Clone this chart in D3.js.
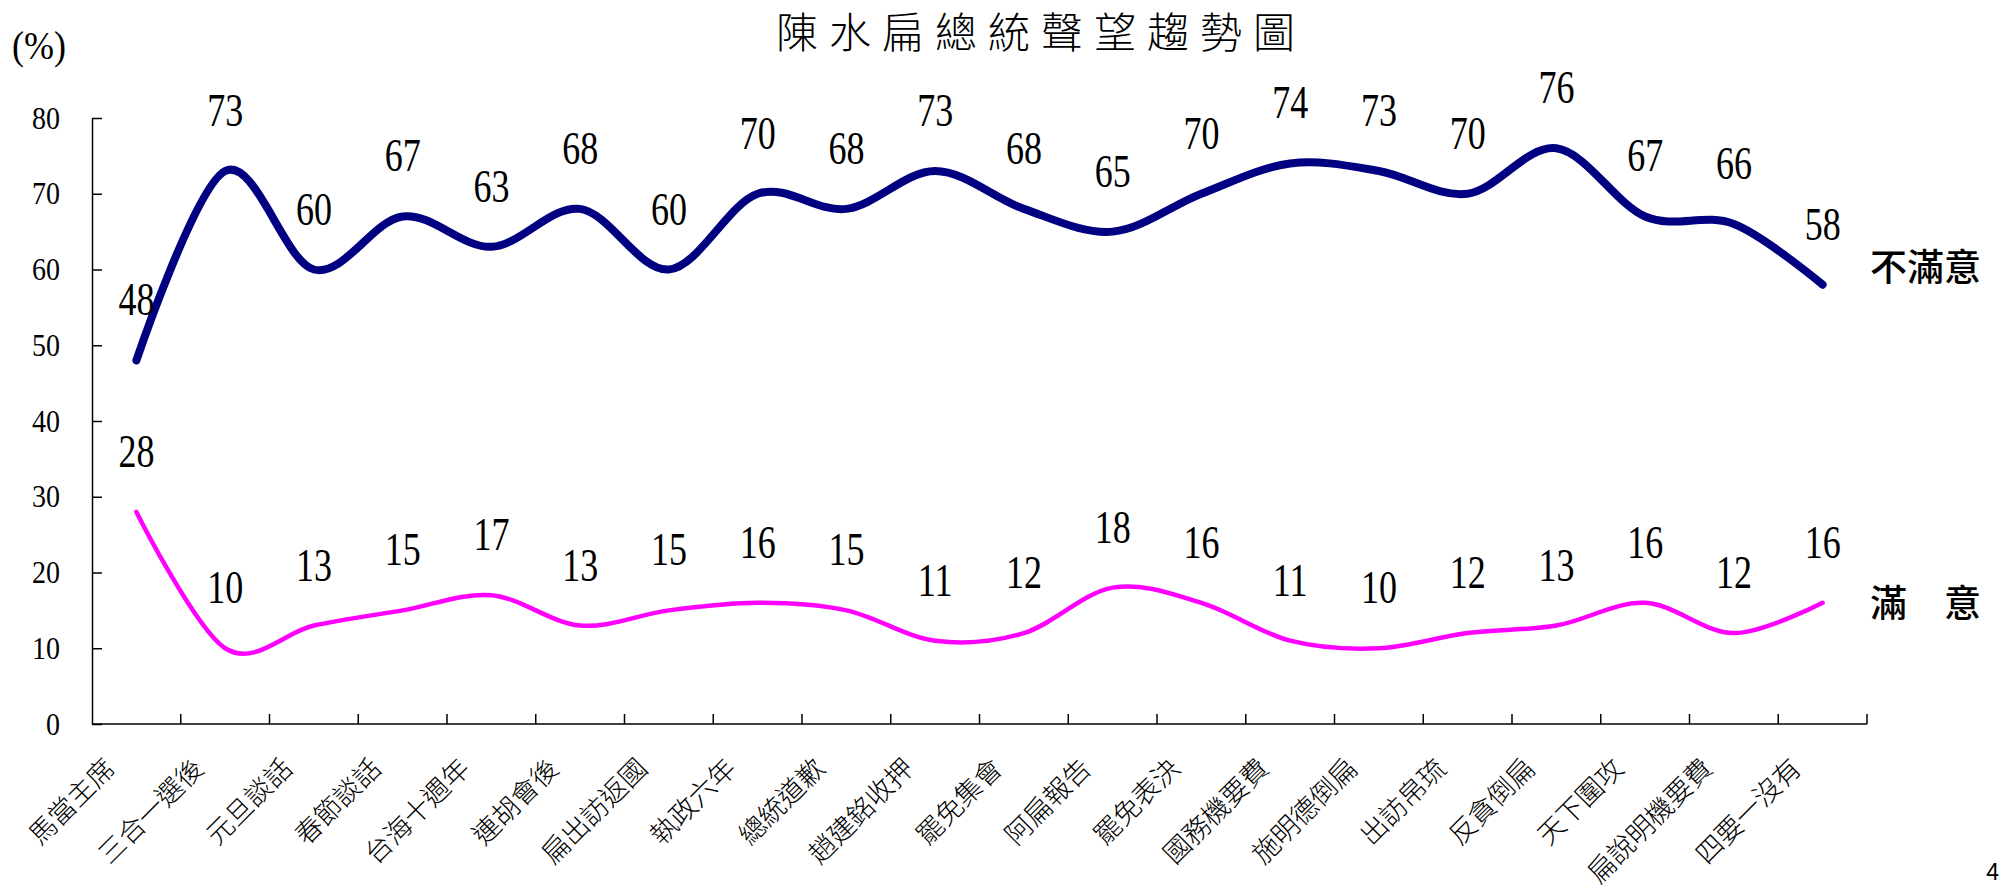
<!DOCTYPE html>
<html>
<head>
<meta charset="utf-8">
<script src="https://cdn.jsdelivr.net/npm/d3@7"></script>
<style>
  body { margin: 0; background: #fff; }
  svg { display: block; }
  .num { font-family: "Liberation Serif", "Times New Roman", serif; fill: #000; }
  .cjk { font-family: "Noto Sans CJK TC", "Noto Sans CJK SC", sans-serif; fill: #000; }
</style>
</head>
<body>
<div id="chart"></div>
<script>
const categories = ["馬當主席", "三合一選後", "元旦談話", "春節談話", "台海十週年", "連胡會後", "扁出訪返國",
  "執政六年", "總統道歉", "趙建銘收押", "罷免集會", "阿扁報告", "罷免表決", "國務機要費", "施明德倒扁",
  "出訪帛琉", "反貪倒扁", "天下圍攻", "扁說明機要費", "四要一沒有"];
const dissatisfied = [48, 73, 60, 67, 63, 68, 60, 70, 68, 73, 68, 65, 70, 74, 73, 70, 76, 67, 66, 58];
const satisfied = [28, 10, 13, 15, 17, 13, 15, 16, 15, 11, 12, 18, 16, 11, 10, 12, 13, 16, 12, 16];
const yTicks = [0, 10, 20, 30, 40, 50, 60, 70, 80];
const seriesNames = ["不滿意", "滿　意"];

const width = 2009, height = 893;
const plotLeft = 92, plotRight = 1867, plotTop = 118, plotBottom = 724;

const svg = d3.select("#chart").append("svg")
    .attr("width", width)
    .attr("height", height);

let x = d3.scaleBand().domain(categories).range([plotLeft, plotRight]);
let y = d3.scaleLinear().domain([0, 80]).range([plotBottom, plotTop]);
const cx = d => x(d) + x.bandwidth() / 2;

// title
svg.append("text")
    .attr("class", "cjk")
    .attr("x", 1041).attr("y", 48)
    .attr("text-anchor", "middle")
    .attr("font-size", 42)
    .attr("font-weight", 300)
    .attr("letter-spacing", 11)
    .text("陳水扁總統聲望趨勢圖");

svg.append("text")
    .attr("class", "num")
    .attr("transform", "translate(12,59) scale(1,1.1)")
    .attr("font-size", 36)
    .text("(%)");

// y axis, ticks pointing inwards
const yAxis = svg.append("g")
    .attr("transform", `translate(${plotLeft},0)`)
    .call(d3.axisLeft(y).tickValues(yTicks).tickSize(-10).tickSizeOuter(0).tickPadding(32));
yAxis.select(".domain").attr("stroke", "#000").attr("stroke-width", 1.5);
yAxis.selectAll(".tick line").attr("stroke", "#000").attr("stroke-width", 1.5);
yAxis.selectAll(".tick text")
    .attr("class", "num")
    .attr("font-size", 28)
    .attr("transform", "scale(1,1.13)");

// x axis with ticks on band edges
svg.append("line")
    .attr("x1", plotLeft).attr("x2", plotRight)
    .attr("y1", plotBottom).attr("y2", plotBottom)
    .attr("stroke", "#000").attr("stroke-width", 1.5);
const edges = categories.slice(1).map(c => x(c)).concat([plotRight]);
svg.append("g").selectAll("line")
  .data(edges)
  .join("line")
    .attr("x1", d => d).attr("x2", d => d)
    .attr("y1", plotBottom).attr("y2", plotBottom - 10)
    .attr("stroke", "#000").attr("stroke-width", 1.5);

svg.append("g").selectAll("text")
  .data(categories)
  .join("text")
    .attr("class", "cjk")
    .attr("font-size", 27)
    .attr("font-weight", 300)
    .attr("text-anchor", "end")
    .attr("dominant-baseline", "central")
    .attr("transform", d => `translate(${cx(d) - 28},${762}) rotate(-45)`)
    .text(d => d);

// smoothed lines
const line = d3.line()
    .x((d, i) => cx(categories[i]))
    .y(d => y(d))
    .curve(d3.curveCatmullRom.alpha(0));

svg.append("path")
    .datum(dissatisfied)
    .attr("d", line)
    .attr("fill", "none")
    .attr("stroke", "#000080")
    .attr("stroke-width", 8)
    .attr("stroke-linecap", "round")
    .attr("stroke-linejoin", "round");

svg.append("path")
    .datum(satisfied)
    .attr("d", line)
    .attr("fill", "none")
    .attr("stroke", "#ff00ff")
    .attr("stroke-width", 4.5)
    .attr("stroke-linecap", "round")
    .attr("stroke-linejoin", "round");

// value labels
[dissatisfied, satisfied].forEach(series => {
  svg.append("g").selectAll("text")
    .data(series)
    .join("text")
      .attr("class", "num")
      .attr("font-size", 36)
      .attr("text-anchor", "middle")
      .attr("transform", (d, i) => `translate(${cx(categories[i])},${y(d) - 45}) scale(1,1.28)`)
      .text(d => d);
});

// series names
svg.append("text")
    .attr("class", "cjk")
    .attr("x", 1870).attr("y", 281)
    .attr("font-size", 37)
    .attr("font-weight", 500)
    .text(seriesNames[0]);
svg.append("text")
    .attr("class", "cjk")
    .attr("x", 1870).attr("y", 617)
    .attr("font-size", 37)
    .attr("font-weight", 500)
    .text(seriesNames[1]);

// page number
svg.append("text")
    .attr("x", 1999).attr("y", 880)
    .attr("text-anchor", "end")
    .attr("font-family", "Liberation Sans, Arial, sans-serif")
    .attr("font-size", 23)
    .text("4");
</script>
</body>
</html>
